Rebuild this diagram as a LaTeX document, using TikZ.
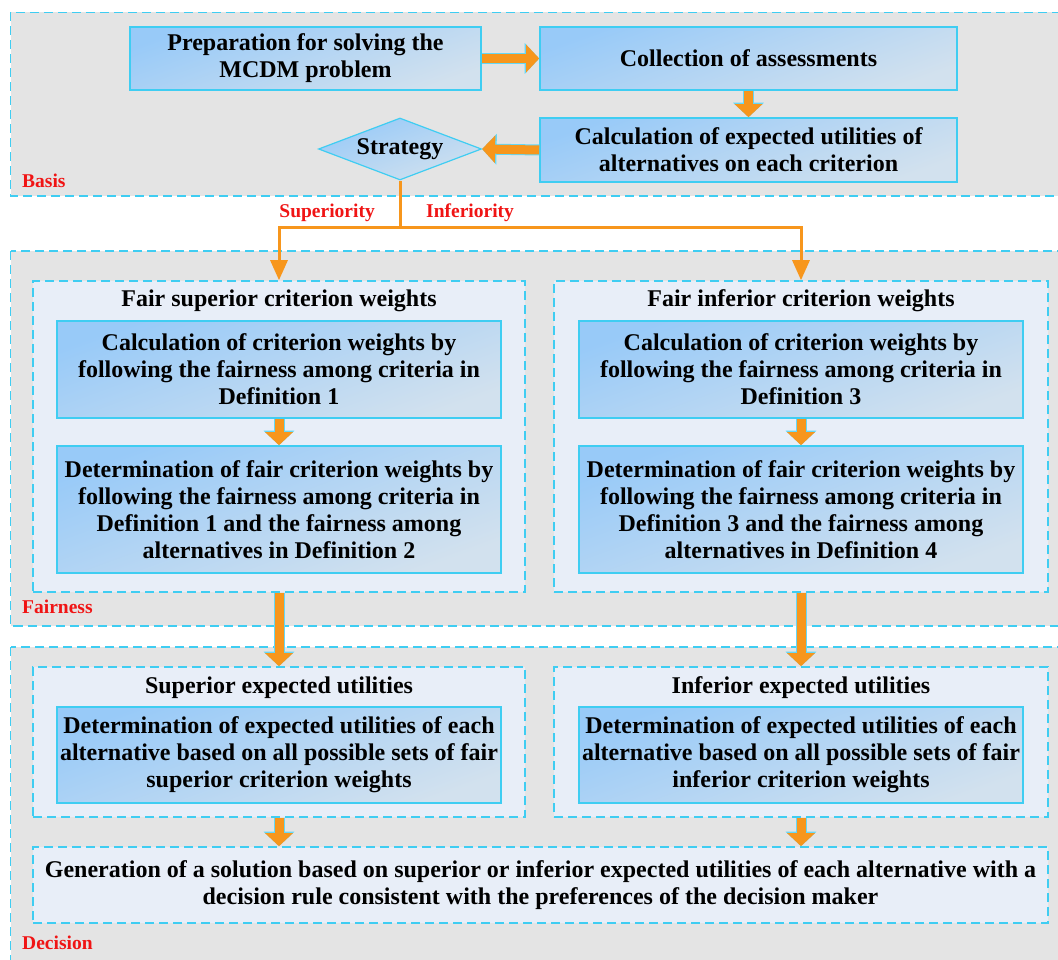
\documentclass[tikz,border=0pt]{standalone}
\usepackage{fontspec}
\setmainfont{Liberation Serif}[BoldFont={Liberation Serif Bold}]
\newfontfamily\tnr{Liberation Serif}[BoldFont={Liberation Serif Bold}]
\usetikzlibrary{arrows.meta,shapes.geometric,calc}
\definecolor{orng}{HTML}{F7961C}
\definecolor{cyanb}{HTML}{3FCDF2}
\definecolor{outerfill}{HTML}{E4E4E4}
\definecolor{innerfill}{HTML}{E8EEF8}
\definecolor{boxtop}{HTML}{98CAF8}
\definecolor{boxbot}{HTML}{D2E1EE}
\definecolor{lblred}{HTML}{F01414}
\tikzset{
  outerbox/.style={draw=cyanb, fill=outerfill, line width=1.6pt, dash pattern=on 9pt off 5pt},
  innerbox/.style={draw=cyanb, fill=innerfill, line width=1.6pt, dash pattern=on 9pt off 5pt, inner sep=0pt},
  bluebox/.style={draw=cyanb, line width=1.6pt, top color=boxtop, bottom color=boxbot, shading angle=20,
     font=\tnr\fontsize{24}{27}\selectfont\bfseries, align=center, inner sep=0pt},
  txt/.style={font=\tnr\fontsize{24}{27}\selectfont\bfseries, align=center, inner sep=0pt},
  lbl/.style={font=\tnr\fontsize{19.5}{22}\selectfont\bfseries, text=lblred, inner sep=0pt},
  blockarrow/.style={draw=orng, line width=9pt, -{Triangle[length=13pt,width=27pt]},
     preaction={draw=cyanb!80, line width=11pt, -{Triangle[length=14.5pt,width=30pt]}}},
  thinarrow/.style={draw=orng, line width=3pt, -{Triangle[length=20pt,width=17pt]}},
}
\begin{document}
\begin{tikzpicture}[x=1pt,y=-1pt]
\useasboundingbox (0,0) rectangle (1058,960);
\fill[white] (0,0) rectangle (1058,960);
% outer frames
\draw[outerbox] (10.5,12.5) rectangle (1066,196);
\draw[outerbox] (10.5,251) rectangle (1066,626);
\draw[outerbox] (10.5,647) rectangle (1066,980);

% Basis
\node[bluebox, minimum width=351pt, minimum height=63pt] (prep) at (305.5,58.5) {Preparation for solving the\\MCDM problem};
\node[bluebox, minimum width=417pt, minimum height=63pt] (coll) at (748.5,58.5) {Collection of assessments};
\node[bluebox, minimum width=417pt, minimum height=64pt] (calc) at (748.5,150) {Calculation of expected utilities of\\alternatives on each criterion};
\node[draw=cyanb, line width=1.2pt, top color=boxtop, bottom color=boxbot, shading angle=20, diamond, aspect=2.6,
      minimum width=163pt, minimum height=62pt, inner sep=0pt, txt] (strat) at (400,149) {Strategy};
\node[lbl, anchor=west] (lbasis) at (22,181) {Basis};

\draw[blockarrow] (prep.east) -- (coll.west);
\draw[blockarrow] (coll.south) -- (calc.north);
\draw[blockarrow] (calc.west) -- (strat.east);

% Fairness
\node[innerbox, minimum width=492pt, minimum height=311pt] (fsL) at (279,436.5) {};
\node[innerbox, minimum width=494pt, minimum height=311pt] (fsR) at (801,436.5) {};
\node[txt] (tL) at (279,301) {Fair superior criterion weights};
\node[txt] (tR) at (801,301) {Fair inferior criterion weights};
\node[bluebox, minimum width=444pt, minimum height=97pt] (L1) at (279,369.5) {Calculation of criterion weights by\\following the fairness among criteria in\\Definition 1};
\node[bluebox, minimum width=444pt, minimum height=127pt] (L2) at (279,509.5) {Determination of fair criterion weights by\\following the fairness among criteria in\\Definition 1 and the fairness among\\alternatives in Definition 2};
\node[bluebox, minimum width=444pt, minimum height=97pt] (R1) at (801,369.5) {Calculation of criterion weights by\\following the fairness among criteria in\\Definition 3};
\node[bluebox, minimum width=444pt, minimum height=127pt] (R2) at (801,509.5) {Determination of fair criterion weights by\\following the fairness among criteria in\\Definition 3 and the fairness among\\alternatives in Definition 4};
\node[lbl, anchor=west] (lfair) at (22,607) {Fairness};
\draw[blockarrow] (L1.south) -- (L2.north);
\draw[blockarrow] (R1.south) -- (R2.north);

% strategy branches
\coordinate (hub) at (400,228);
\draw[thinarrow] (strat.south) -- (hub) -| (fsL.north);
\draw[thinarrow] (hub) -| (fsR.north);
\node[lbl, anchor=east] (lsup) at (375,213) {Superiority};
\node[lbl, anchor=west] (linf) at (426,213) {Inferiority};

% Decision
\node[innerbox, minimum width=492pt, minimum height=150pt] (dsL) at (279,742) {};
\node[innerbox, minimum width=494pt, minimum height=150pt] (dsR) at (801,742) {};
\node[txt] (tdL) at (279,688) {Superior expected utilities};
\node[txt] (tdR) at (801,688) {Inferior expected utilities};
\node[bluebox, minimum width=444pt, minimum height=96pt] (LD) at (279,755) {Determination of expected utilities of each\\alternative based on all possible sets of fair\\superior criterion weights};
\node[bluebox, minimum width=444pt, minimum height=96pt] (RD) at (801,755) {Determination of expected utilities of each\\alternative based on all possible sets of fair\\inferior criterion weights};
\node[innerbox, txt, minimum width=1015pt, minimum height=76pt] (gen) at (540.5,885) {Generation of a solution based on superior or inferior expected utilities of each alternative with a\\decision rule consistent with the preferences of the decision maker};
\node[lbl, anchor=west] (ldec) at (22,943) {Decision};

\draw[blockarrow] (fsL.south) -- (dsL.north);
\draw[blockarrow] (fsR.south) -- (dsR.north);
\draw[blockarrow] (dsL.south) -- (dsL.south |- gen.north);
\draw[blockarrow] (dsR.south) -- (dsR.south |- gen.north);
\end{tikzpicture}
\end{document}
